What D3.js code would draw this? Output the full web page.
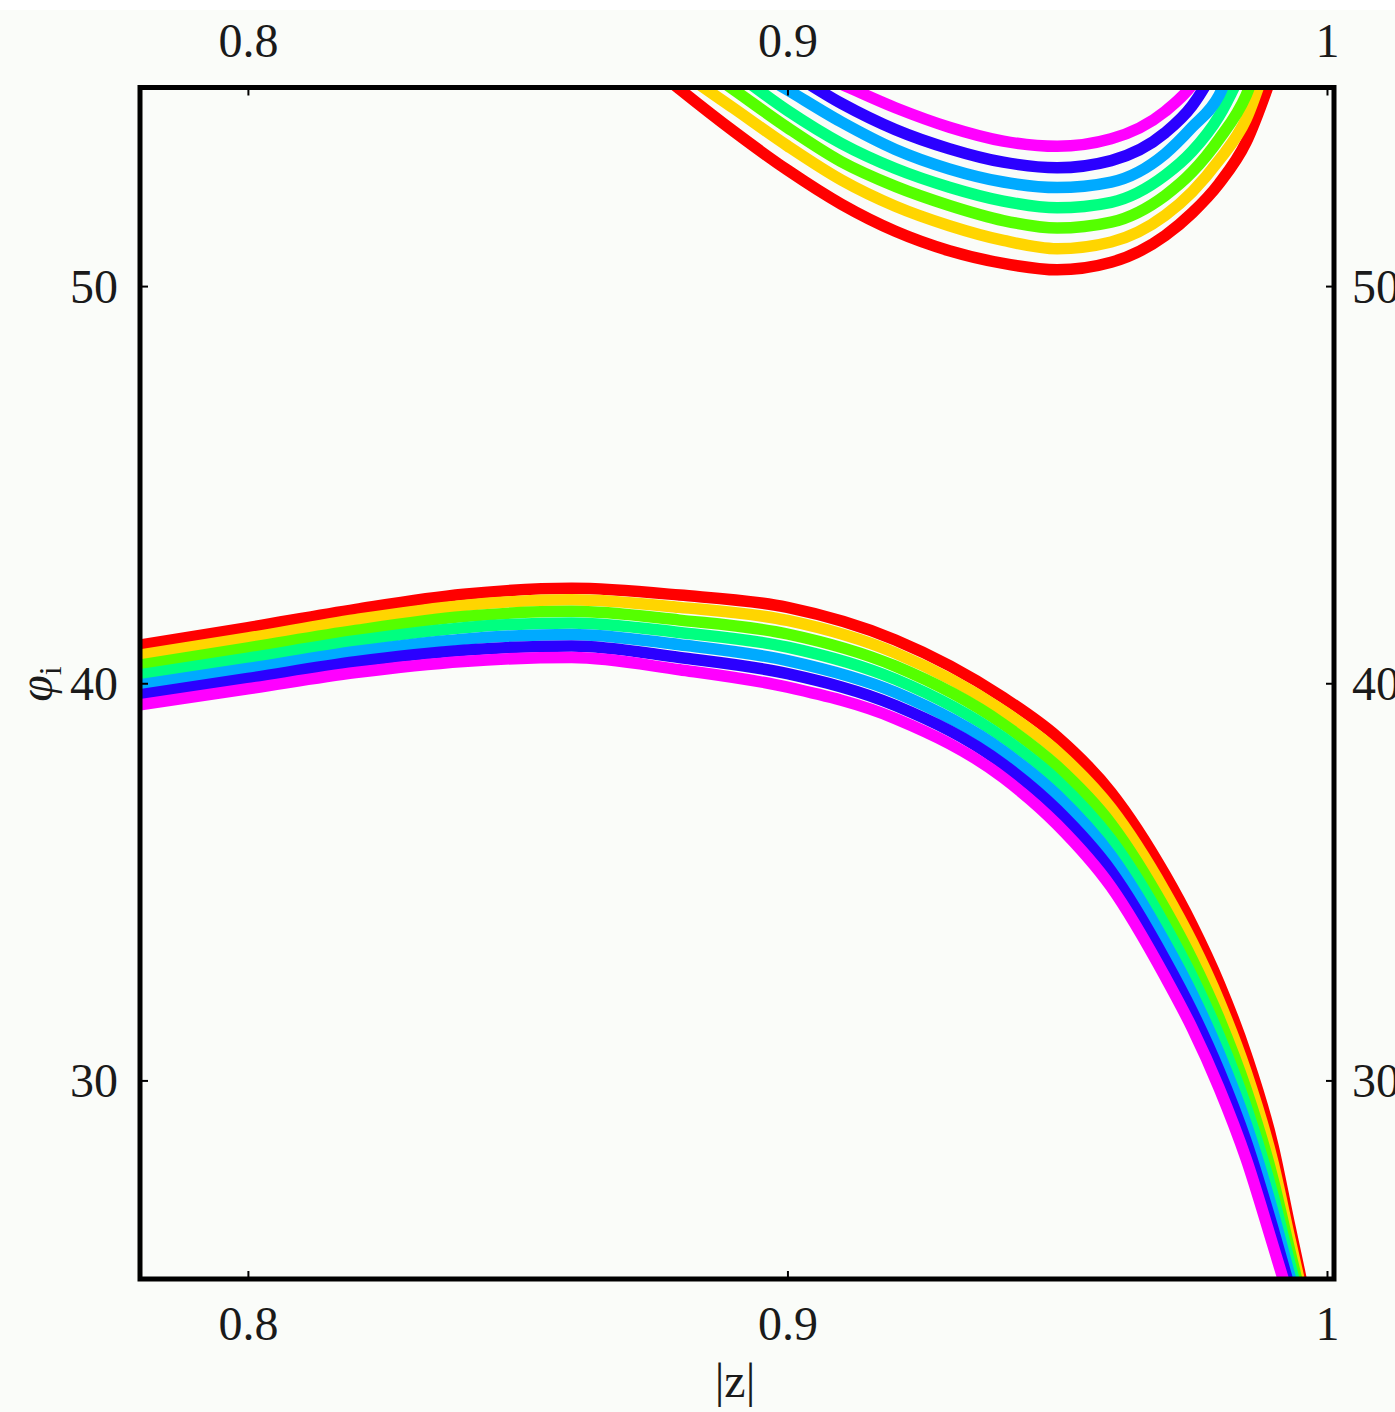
<!DOCTYPE html>
<html>
<head>
<meta charset="utf-8">
<script src="https://cdn.jsdelivr.net/npm/d3@7"></script>
<style>
  body { margin: 0; background: #fafcf9; }
  svg { display: block; }
</style>
</head>
<body>
<svg width="1395" height="1412"></svg>
<script>
// data section

// shared |z| grid for the lower and the upper branch
const lowerX = [0.78, 0.80, 0.82, 0.84, 0.86, 0.88, 0.90, 0.92, 0.94, 0.95, 0.96, 0.97, 0.975, 0.98, 0.985, 0.99, 0.993, 0.995, 0.998];
const upperX = [0.87, 0.88, 0.89, 0.90, 0.91, 0.92, 0.93, 0.94, 0.95, 0.96, 0.97, 0.975, 0.98, 0.985, 0.99, 0.995];

// lower branch, one array per curve (red -> magenta)
const lowerRed     = [40.96, 41.40, 41.86, 42.24, 42.39, 42.22, 41.91, 41.09, 39.64, 38.65, 37.25, 35.18, 33.92, 32.45, 30.66, 28.35, 26.40, 25.13, 23.10];
const lowerGold    = [40.71, 41.14, 41.60, 41.96, 42.10, 41.91, 41.58, 40.76, 39.30, 38.28, 36.85, 34.75, 33.49, 32.01, 30.22, 27.93, 26.08, 24.88, 22.98];
const lowerGreen   = [40.46, 40.89, 41.33, 41.68, 41.81, 41.59, 41.24, 40.43, 38.97, 37.91, 36.46, 34.32, 33.05, 31.57, 29.78, 27.51, 25.77, 24.64, 22.87];
const lowerSpring  = [40.21, 40.63, 41.07, 41.40, 41.52, 41.28, 40.91, 40.10, 38.63, 37.55, 36.06, 33.90, 32.62, 31.13, 29.35, 27.10, 25.45, 24.39, 22.75];
const lowerAzure   = [39.96, 40.37, 40.80, 41.11, 41.23, 40.97, 40.57, 39.77, 38.29, 37.18, 35.66, 33.47, 32.19, 30.69, 28.91, 26.68, 25.13, 24.14, 22.63];
const lowerBlue    = [39.71, 40.12, 40.54, 40.83, 40.94, 40.65, 40.24, 39.44, 37.96, 36.81, 35.27, 33.04, 31.75, 30.25, 28.47, 26.26, 24.82, 23.90, 22.52];
const lowerMagenta = [39.46, 39.86, 40.27, 40.55, 40.65, 40.34, 39.90, 39.11, 37.62, 36.44, 34.87, 32.61, 31.32, 29.81, 28.03, 25.84, 24.50, 23.65, 22.40];

// upper branch (values above 55 run off the top of the frame)
const upperRed     = [56.08, 54.96, 53.90, 52.92, 52.06, 51.38, 50.89, 50.57, 50.41, 50.60, 51.27, 51.84, 52.58, 53.62, 55.39, 57.5];
const upperGold    = [56.45, 55.43, 54.48, 53.53, 52.67, 52.01, 51.52, 51.15, 50.94, 51.11, 51.78, 52.37, 53.17, 54.20, 56.1, 58.0];
const upperGreen   = [56.90, 55.90, 54.95, 53.99, 53.13, 52.51, 52.03, 51.65, 51.46, 51.61, 52.28, 52.87, 53.70, 54.80, 56.8, 58.6];
const upperSpring  = [57.30, 56.35, 55.40, 54.42, 53.59, 52.96, 52.49, 52.14, 51.97, 52.11, 52.79, 53.39, 54.28, 55.65, 57.3, 59.2];
const upperAzure   = [57.40, 56.60, 55.75, 54.94, 54.13, 53.44, 52.95, 52.62, 52.48, 52.62, 53.33, 54.00, 54.80, 56.6, 57.8, 59.8];
const upperBlue    = [57.80, 57.00, 56.20, 55.42, 54.60, 53.94, 53.46, 53.12, 52.98, 53.16, 53.86, 54.54, 55.68, 57.2, 58.4, 60.3];
const upperMagenta = [57.70, 57.00, 56.30, 55.65, 55.08, 54.49, 54.00, 53.65, 53.52, 53.71, 54.40, 55.06, 56.2, 57.8, 59.0, 60.8];

const curveColors = ["#ff0000", "#ffd500", "#55ff00", "#00ff80", "#00aaff", "#2b00ff", "#ff00ff"];
const lowerCurves = [lowerRed, lowerGold, lowerGreen, lowerSpring, lowerAzure, lowerBlue, lowerMagenta];
const upperCurves = [upperRed, upperGold, upperGreen, upperSpring, upperAzure, upperBlue, upperMagenta];

const xTicks = [0.8, 0.9, 1];
const yTicks = [30, 40, 50];
const xLabel = "|z|";

// layout
const svgWidth = 1395, svgHeight = 1412;
const box = { left: 140, right: 1334, top: 87.5, bottom: 1279 };
const fontFamily = '"Liberation Serif", "Times New Roman", serif';
const textColor = "#1a1a1a";

const svg = d3.select("svg");

// thin white strip on top of the page
svg.append("rect").attr("width", svgWidth).attr("height", 10).attr("fill", "#ffffff");

const x = d3.scaleLinear().domain([0.78, 1.0013]).range([box.left, box.right]);
const y = d3.scaleLinear().domain([25, 55]).range([box.bottom, box.top]);

svg.append("clipPath").attr("id", "plot-clip")
  .append("rect")
  .attr("x", box.left).attr("y", box.top)
  .attr("width", box.right - box.left).attr("height", box.bottom - box.top);

const plot = svg.append("g").attr("clip-path", "url(#plot-clip)");

function drawBranch(xs, curves) {
  const line = d3.line()
    .x((d, i) => x(xs[i]))
    .y(d => y(d))
    .curve(d3.curveMonotoneX);
  // red first, magenta last (magenta ends up on top)
  curves.forEach((values, k) => {
    plot.append("path")
      .attr("d", line(values))
      .attr("fill", "none")
      .attr("stroke", curveColors[k])
      .attr("stroke-width", 11.5)
      .attr("stroke-linejoin", "round");
  });
}

drawBranch(lowerX, lowerCurves);
drawBranch(upperX, upperCurves);

// axes on all four sides, ticks pointing inward
function styleAxis(sel) {
  sel.select(".domain").remove();
  sel.attr("font-size", 48).attr("font-family", fontFamily);
  sel.selectAll(".tick line").attr("stroke-width", 2);
  sel.selectAll(".tick text").attr("fill", textColor);
}

svg.append("g")
  .attr("transform", `translate(0,${box.bottom})`)
  .call(d3.axisBottom(x).tickValues(xTicks).tickSize(-8).tickFormat(d3.format("")))
  .call(styleAxis)
  .call(g => g.selectAll(".tick text").attr("y", 61).attr("dy", null));

svg.append("g")
  .attr("transform", `translate(0,${box.top})`)
  .call(d3.axisTop(x).tickValues(xTicks).tickSize(-8).tickFormat(d3.format("")))
  .call(styleAxis)
  .call(g => g.selectAll(".tick text").attr("y", -31).attr("dy", null));

svg.append("g")
  .attr("transform", `translate(${box.left},0)`)
  .call(d3.axisLeft(y).tickValues(yTicks).tickSize(-8))
  .call(styleAxis)
  .call(g => g.selectAll(".tick text").attr("x", -22).attr("dy", "0.34em"));

svg.append("g")
  .attr("transform", `translate(${box.right},0)`)
  .call(d3.axisRight(y).tickValues(yTicks).tickSize(-8))
  .call(styleAxis)
  .call(g => g.selectAll(".tick text").attr("x", 18).attr("dy", "0.34em"));

// frame
svg.append("rect")
  .attr("x", box.left).attr("y", box.top)
  .attr("width", box.right - box.left).attr("height", box.bottom - box.top)
  .attr("fill", "none")
  .attr("stroke", "#000")
  .attr("stroke-width", 5);

// axis labels
svg.append("text")
  .attr("x", 735).attr("y", 1397)
  .attr("text-anchor", "middle")
  .attr("font-family", fontFamily)
  .attr("font-size", 48)
  .attr("fill", textColor)
  .text(xLabel);

const yLab = svg.append("text")
  .attr("transform", "translate(52,684) rotate(-90)")
  .attr("text-anchor", "middle")
  .attr("font-family", fontFamily)
  .attr("font-size", 48)
  .attr("fill", textColor);
yLab.append("tspan").attr("font-style", "italic").text("φ");
yLab.append("tspan").attr("font-size", 32).attr("dy", 9).text("i");
</script>
</body>
</html>
